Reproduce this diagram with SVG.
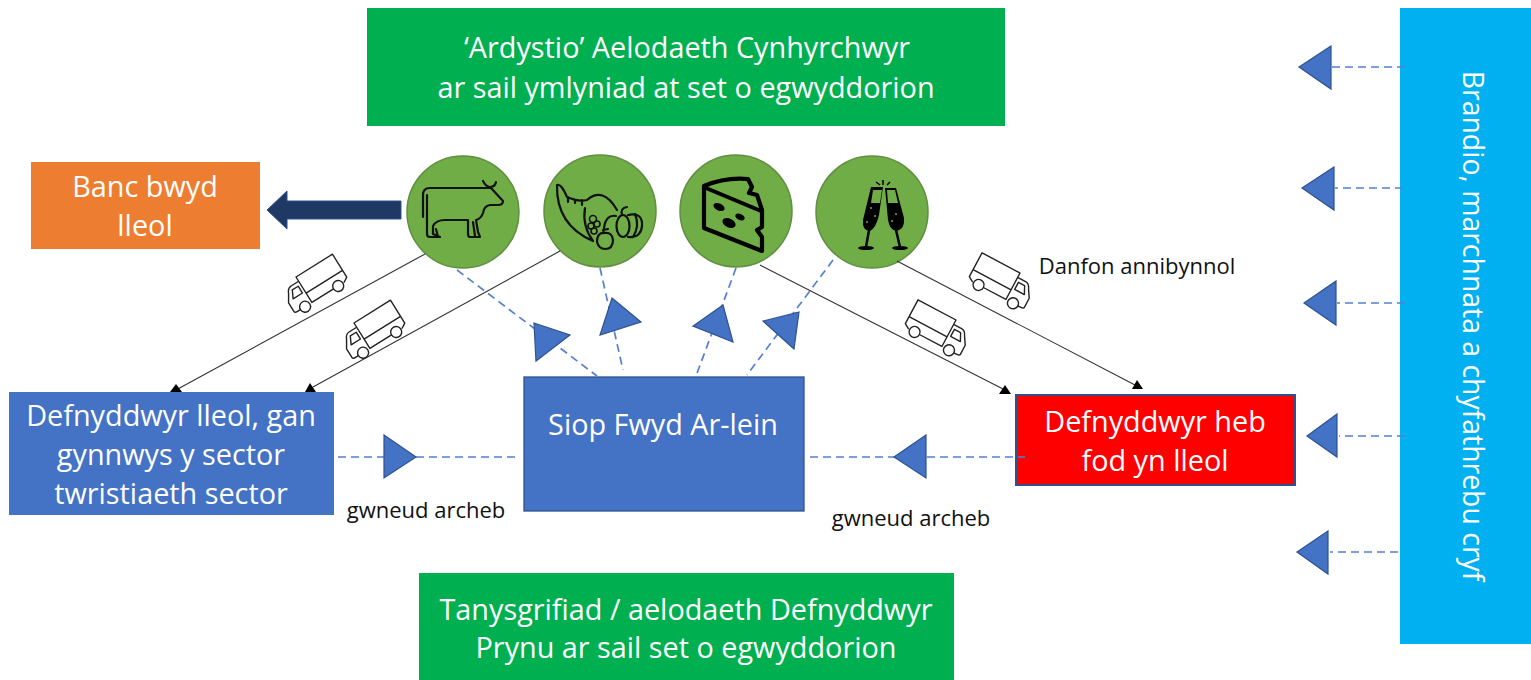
<svg xmlns="http://www.w3.org/2000/svg" width="1531" height="680" viewBox="0 0 1531 680">
<style>
text{font-family:"Open Sans","Noto Sans","Liberation Sans",sans-serif;text-anchor:middle}
.w{fill:#fff;font-size:28.8px}
.k{fill:#111;font-size:22px}
.c{fill:#70ad47;stroke:#5f8f40;stroke-width:1.5}
.blk{stroke:#333;stroke-width:1.1;fill:none}
.dash{stroke:#5580d0;stroke-width:1.7;stroke-dasharray:8 5;fill:none}
.tri{fill:#4472c4;stroke:#2f528f;stroke-width:1.2}
.ah{fill:#000}
.ic{fill:none;stroke:#111;stroke-width:2.2;stroke-linejoin:round;stroke-linecap:round}
.tr{fill:none;stroke:#222;stroke-width:1.4;stroke-linejoin:round;stroke-linecap:round}
</style>
<defs>
<g id="truck" class="tr">
<path d="M0,0H43V27L38,30M25,30H0V0M0,19H43M0,5H-9Q-13,5-15,10L-20,18V28Q-20,30-17,30H-14M-3,9H-10L-14,17H-3Z"/>
<circle cx="-8" cy="30" r="5.5"/><circle cx="31" cy="30" r="5.5"/>
</g>
</defs>
<g id="top-box"><rect x="367" y="8" width="638" height="118" fill="#00b050"/>
<text class="w" x="687" y="58">‘Ardystio’ Aelodaeth Cynhyrchwyr</text>
<text class="w" x="686" y="98">ar sail ymlyniad at set o egwyddorion</text></g>
<g id="banc"><rect x="31" y="162" width="229" height="87" fill="#ed7d31"/>
<text class="w" x="145" y="197">Banc bwyd</text><text class="w" x="145" y="236">lleol</text></g>
<g id="local"><rect x="9" y="392" width="325" height="123" fill="#4472c4"/>
<text class="w" x="171" y="426">Defnyddwyr lleol, gan</text><text class="w" x="171" y="465">gynnwys y sector</text><text class="w" x="171" y="504">twristiaeth sector</text></g>
<g id="siop"><rect x="524" y="377" width="280" height="134" fill="#4472c4" stroke="#2f528f" stroke-width="1.3"/>
<text class="w" x="663" y="435">Siop Fwyd Ar-lein</text></g>
<g id="heb"><rect x="1016" y="395" width="279" height="90" fill="#f00" stroke="#2f528f" stroke-width="2"/>
<text class="w" x="1155" y="432">Defnyddwyr heb</text><text class="w" x="1155" y="471">fod yn lleol</text></g>
<g id="bottom-box"><rect x="419" y="573" width="535" height="107" fill="#00b050"/>
<text class="w" x="686" y="620">Tanysgrifiad / aelodaeth Defnyddwyr</text><text class="w" x="686" y="658">Prynu ar sail set o egwyddorion</text></g>
<g id="brand"><rect x="1400" y="8" width="131" height="636" fill="#00b0f0"/>
<text class="w" style="font-size:28.4px" transform="translate(1463,326) rotate(90)">Brandio, marchnata a chyfathrebu cryf</text></g>
<g id="cow"><circle class="c" cx="463" cy="212" r="56"/>
<path class="ic" d="M423,217V195Q423,188 430,188H491L503,201Q503,205 498,205H490Q484,206 483,213Q481,219 476,220L478,232L480,237H470Q468,237 468,234V220H445Q436,220 433,226V234L440,237H430Q427,237 427,234V195M473,222L475,236M436,229L438,237M483,181Q486,187 490,187Q495,187 496,182"/></g>
<g id="horn"><circle class="c" cx="600" cy="211" r="56"/>
<path class="ic" d="M557,185Q561,183 567,197Q578,202 587,200Q603,186 617,210M557,185Q556,225 593,241Q582,226 585,208M568,197V202M575,200V203M582,200V205"/>
<circle class="ic" style="stroke-width:1.6" cx="593" cy="219" r="3.5"/><circle class="ic" style="stroke-width:1.6" cx="597" cy="224" r="3"/><circle class="ic" style="stroke-width:1.6" cx="591" cy="226" r="3"/><circle class="ic" style="stroke-width:1.6" cx="594" cy="231" r="3"/>
<ellipse class="ic" cx="623" cy="226" rx="6.5" ry="11"/>
<path class="ic" d="M622,215Q620,208 627,207M628,215Q643,212 642,226Q641,238 628,237M635,214Q640,226 633,237M616,216Q606,214 604,228"/>
<path class="ic" d="M605,233Q597,232 597,242Q599,249 605,249Q613,249 613,240Q612,232 605,233ZM604,233L603,230L608,229"/></g>
<g id="cheese"><circle class="c" cx="736" cy="211" r="56"/>
<path d="M704,186Q725,177 748,179L752,187L749,193L757,195L762,210V227L757,230L762,237V251L704,228Z" fill="none" stroke="#000" stroke-width="4.2" stroke-linejoin="round"/>
<path d="M706,188L761,211" stroke="#000" stroke-width="4"/>
<ellipse cx="719" cy="207" rx="6" ry="3.5" transform="rotate(25 719 207)"/>
<ellipse cx="740" cy="217" rx="5" ry="3" transform="rotate(25 740 217)"/>
<ellipse cx="729" cy="223" rx="7" ry="4.5" transform="rotate(25 729 223)"/></g>
<g id="glasses"><circle class="c" cx="872" cy="212" r="56"/>
<path d="M871,187H883L879,215Q876,228 870,231Q862,231 863,220ZM873,190L871,203H880L882,190Z" fill="#000" fill-rule="evenodd"/>
<path d="M885,188H896L904,218Q905,229 897,231Q890,231 888,220ZM887,190L888,203H898L895,190Z" fill="#000" fill-rule="evenodd"/>
<path d="M869,230L866,247M896,230L900,247" stroke="#000" stroke-width="2.5"/>
<ellipse cx="866" cy="248" rx="8" ry="2"/><ellipse cx="900" cy="248" rx="8" ry="2"/>
<path d="M876,182L880,185M883,180V185M890,182L887,185" stroke="#000" stroke-width="1.5"/>
<g fill="#70ad47"><circle cx="871" cy="208" r="1"/><circle cx="875" cy="216" r="1"/><circle cx="867" cy="222" r="1"/><circle cx="896" cy="214" r="1"/><circle cx="892" cy="221" r="1"/></g></g>
<g id="connectors">
<path class="blk" d="M425,254L176,390M560,251L313,387M760,265L1005,390M897,261L1135,385"/>
<polygon class="ah" points="176,384 170,392 182,392"/>
<polygon class="ah" points="310,383 305,392 316,392"/>
<polygon class="ah" points="1005,385 999,394 1011,394"/>
<polygon class="ah" points="1137,380 1132,389 1143,389"/>
<path class="dash" d="M457,270L597,376M600,268L623,370M736,268L696,376M833,260L747,375M338,457H518M810,457H1025M1405,67H1332M1403,188H1335M1405,303H1337M1405,436H1339M1398,552H1330"/>
<polygon class="tri" points="534,323 570,335 536,361"/>
<polygon class="tri" points="612,298 641,322 600,335"/>
<polygon class="tri" points="723,305 733,342 693,326"/>
<polygon class="tri" points="799,312 794,349 763,321"/>
<polygon class="tri" points="384,435 416,457 384,478"/>
<polygon class="tri" points="926,435 894,457 926,478"/>
<polygon class="tri" points="1331,46 1299,67 1331,89"/>
<polygon class="tri" points="1334,167 1302,188 1334,210"/>
<polygon class="tri" points="1336,281 1304,303 1336,325"/>
<polygon class="tri" points="1337,414 1307,436 1337,457"/>
<polygon class="tri" points="1328,531 1297,552 1328,574"/>
<path d="M401,201H287V191L267,210L287,229V219H401Z" fill="#1f3864" stroke="#2f528f"/>
</g>
<use href="#truck" transform="translate(296,277) rotate(-32)"/>
<use href="#truck" transform="translate(354,323) rotate(-32)"/>
<use href="#truck" transform="translate(1020,273) rotate(28) scale(-1,1)"/>
<use href="#truck" transform="translate(956,320) rotate(28) scale(-1,1)"/>
<text class="k" x="1137" y="274">Danfon annibynnol</text>
<text class="k" x="426" y="518">gwneud archeb</text>
<text class="k" x="911" y="526">gwneud archeb</text>
</svg>
